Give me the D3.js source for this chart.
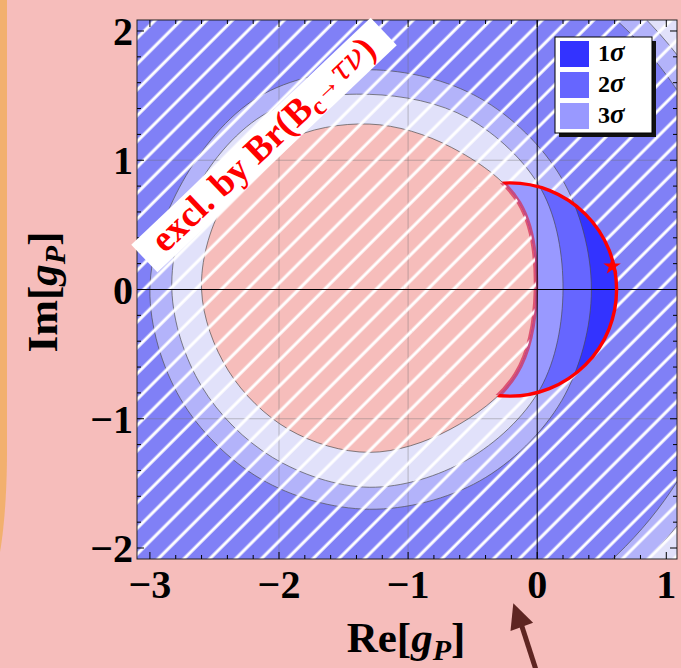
<!DOCTYPE html>
<html><head><meta charset="utf-8">
<script src="https://cdn.jsdelivr.net/npm/d3@7"></script>
<style>
html,body{margin:0;padding:0;background:#f6bdbb;}
svg{display:block;}
text{font-family:"Liberation Serif","Times New Roman",serif;}
</style></head><body>
<svg id="chart" width="681" height="668"></svg>
<script>
// Δχ² contour boundaries in the complex g_P plane, as radii around the ring
// centre, sampled every 30 degrees (counter-clockwise from the +Re axis).
const ringCenter = [-1.3, 0];
const boundaryAngles = [0, 30, 60, 90, 120, 150, 180, 210, 240, 270, 300, 330];
const edge3sigmaInner = [1.29, 1.34, 1.27, 1.28, 1.32, 1.31, 1.30, 1.26, 1.25, 1.26, 1.25, 1.31];
const edge2sigmaInner = [1.50, 1.54, 1.53, 1.51, 1.58, 1.55, 1.53, 1.50, 1.50, 1.53, 1.52, 1.53];
const edge1sigmaInner = [1.72, 1.72, 1.71, 1.70, 1.72, 1.67, 1.70, 1.69, 1.69, 1.70, 1.71, 1.72];
const edge1sigmaOuter = [2.83, 2.84, 2.83, 2.83, 2.83, 2.83, 2.83, 2.83, 2.83, 2.83, 2.82, 2.81];
const edge2sigmaOuter = [3.02, 3.00, 3.00, 3.00, 3.00, 3.00, 3.00, 3.00, 3.00, 3.00, 3.00, 3.01];

// Disc allowed by Br(B_c -> tau nu)
const brCenter = [-0.21, 0];
const brRadius = 0.825;

// Best-fit point
const bestFit = [0.58, 0.18];

// Axes
const xDomain = [-3.1, 1.083];
const yDomain = [-2.085, 2.085];
const xTicks = [-3, -2, -1, 0, 1];
const yTicks = [-2, -1, 0, 1, 2];
const xGrid = [-2, -1];
const yGrid = [-1, 1];
const minorStep = 0.2;

const legendLabels = ["1", "2", "3"];
const bandLabel = "excl. by Br(B";

const raw = {s1: "#3333ff", s2: "#6666ff", s3: "#9999ff"};
const washed = {s1: "#8080f6", s2: "#b3b3fa", s3: "#e1e1fa"};
const pink = "#f6bdbb";

const plot = {left: 137, right: 677, top: 20, bottom: 559};
const W = 681, H = 668;
const x = d3.scaleLinear(xDomain, [plot.left, plot.right]);
const y = d3.scaleLinear(yDomain, [plot.bottom, plot.top]);

const svg = d3.select("#chart");
const defs = svg.append("defs");

// slide background
svg.append("rect").attr("width", W).attr("height", H).attr("fill", pink);
svg.append("path").attr("d", "M0,0 L7,0 L7,450 C7,500 3,535 0,552 Z").attr("fill", "#f2b06e");

function ringPath(radii) {
  const pts = boundaryAngles.map((a, i) => {
    const t = a * Math.PI / 180;
    return [x(ringCenter[0] + radii[i] * Math.cos(t)), y(ringCenter[1] + radii[i] * Math.sin(t))];
  });
  return d3.line().curve(d3.curveCatmullRomClosed.alpha(0.5))(pts);
}
const brCx = x(brCenter[0]), brCy = y(brCenter[1]);
const brRx = x(brCenter[0] + brRadius) - brCx, brRy = brCy - y(brCenter[1] + brRadius);
const brPath = `M${brCx + brRx},${brCy}A${brRx},${brRy} 0 1,0 ${brCx - brRx},${brCy}A${brRx},${brRy} 0 1,0 ${brCx + brRx},${brCy}Z`;
const fullRect = `M0,0H${W}V${H}H0Z`;
const pinkPath = ringPath(edge3sigmaInner);

function clip(id, d, evenodd) {
  defs.append("clipPath").attr("id", id).append("path").attr("d", d)
    .attr("clip-rule", evenodd ? "evenodd" : "nonzero");
}
clip("plotClip", `M${plot.left},${plot.top}H${plot.right}V${plot.bottom}H${plot.left}Z`);
clip("brClip", brPath);
clip("outsideBrClip", fullRect + brPath, true);
clip("pinkClip", pinkPath);
clip("outsidePinkClip", fullRect + pinkPath, true);

// hatch pattern: white "/" stripes
const P = 18.24;
const pat = defs.append("pattern").attr("id", "hatch").attr("patternUnits", "userSpaceOnUse")
  .attr("width", P).attr("height", P).attr("patternTransform", "rotate(45)");
pat.append("rect").attr("x", 13).attr("y", 0).attr("width", 3).attr("height", P).attr("fill", "#fff");

// nested discs, painted from the outside in
const bands = [
  [edge2sigmaOuter, "s2"],
  [edge1sigmaOuter, "s1"],
  [edge1sigmaInner, "s2"],
  [edge2sigmaInner, "s3"]
];

const plotG = svg.append("g").attr("clip-path", "url(#plotClip)");

// washed-out colours everywhere
const wg = plotG.append("g");
wg.append("rect").attr("x", plot.left).attr("y", plot.top)
  .attr("width", plot.right - plot.left).attr("height", plot.bottom - plot.top).attr("fill", washed.s3);
bands.forEach(([r, k]) => wg.append("path").attr("d", ringPath(r)).attr("fill", washed[k]));
wg.append("path").attr("d", pinkPath).attr("fill", pink);

// full colours in the allowed crescent
const rg = plotG.append("g").attr("clip-path", "url(#brClip)")
  .append("g").attr("clip-path", "url(#outsidePinkClip)");
bands.filter(([r, k]) => k !== "s2" || r !== edge2sigmaOuter)
  .forEach(([r, k]) => rg.append("path").attr("d", ringPath(r)).attr("fill", raw[k]));

// grid
xGrid.forEach(v => plotG.append("line").attr("x1", x(v)).attr("x2", x(v)).attr("y1", plot.top).attr("y2", plot.bottom)
  .attr("stroke", "rgba(110,110,110,0.4)").attr("stroke-width", 1));
yGrid.forEach(v => plotG.append("line").attr("y1", y(v)).attr("y2", y(v)).attr("x1", plot.left).attr("x2", plot.right)
  .attr("stroke", "rgba(110,110,110,0.4)").attr("stroke-width", 1));

// contour lines
[edge2sigmaOuter, edge1sigmaOuter, edge1sigmaInner, edge2sigmaInner].forEach(r =>
  plotG.append("path").attr("d", ringPath(r)).attr("fill", "none")
    .attr("stroke", "#4a4a4a").attr("stroke-opacity", 0.75).attr("stroke-width", 0.9));
plotG.append("g").attr("clip-path", "url(#outsideBrClip)").append("path").attr("d", pinkPath).attr("fill", "none")
  .attr("stroke", "#4a4a4a").attr("stroke-opacity", 0.75).attr("stroke-width", 0.9);
plotG.append("g").attr("clip-path", "url(#brClip)").append("path").attr("d", pinkPath)
  .attr("fill", "none").attr("stroke", "rgba(212,45,85,0.72)").attr("stroke-width", 4.5);

// hatching: everything outside the Br disc, plus the pink core inside it
const hatchRect = g => g.append("rect").attr("x", plot.left).attr("y", plot.top)
  .attr("width", plot.right - plot.left).attr("height", plot.bottom - plot.top).attr("fill", "url(#hatch)");
hatchRect(plotG.append("g").attr("clip-path", "url(#outsideBrClip)"));
hatchRect(plotG.append("g").attr("clip-path", "url(#brClip)").append("g").attr("clip-path", "url(#pinkClip)"));

// zero axes
plotG.append("line").attr("x1", x(0)).attr("x2", x(0)).attr("y1", plot.top).attr("y2", plot.bottom).attr("stroke", "#000").attr("stroke-width", 1);
plotG.append("line").attr("y1", y(0)).attr("y2", y(0)).attr("x1", plot.left).attr("x2", plot.right).attr("stroke", "#000").attr("stroke-width", 1);

// Br(B_c -> tau nu) boundary and best-fit point
plotG.append("g").attr("clip-path", "url(#outsidePinkClip)").append("path").attr("d", brPath)
  .attr("fill", "none").attr("stroke", "#ff0000").attr("stroke-width", 3.4);
plotG.append("path").attr("d", d3.symbol(d3.symbolStar, 95)())
  .attr("transform", `translate(${x(bestFit[0])},${y(bestFit[1])})`).attr("fill", "#ff0000");

// frame and ticks
svg.append("rect").attr("x", plot.left).attr("y", plot.top)
  .attr("width", plot.right - plot.left).attr("height", plot.bottom - plot.top)
  .attr("fill", "none").attr("stroke", "#222").attr("stroke-width", 1);
const tk = svg.append("g").attr("stroke", "#000").attr("stroke-width", 1);
d3.range(Math.round(xTicks[0] / minorStep), Math.round(xTicks[xTicks.length - 1] / minorStep) + 1).forEach(i => {
  const v = i * minorStep, L = (i % 5 === 0) ? 7 : 4, px = x(v);
  tk.append("line").attr("x1", px).attr("x2", px).attr("y1", plot.bottom).attr("y2", plot.bottom - L);
  tk.append("line").attr("x1", px).attr("x2", px).attr("y1", plot.top).attr("y2", plot.top + L);
});
d3.range(Math.round(yTicks[0] / minorStep), Math.round(yTicks[yTicks.length - 1] / minorStep) + 1).forEach(i => {
  const v = i * minorStep, L = (i % 5 === 0) ? 7 : 4, py = y(v);
  tk.append("line").attr("y1", py).attr("y2", py).attr("x1", plot.left).attr("x2", plot.left + L);
  tk.append("line").attr("y1", py).attr("y2", py).attr("x1", plot.right).attr("x2", plot.right - L);
});

// tick labels
const fmt = v => (v < 0 ? "\u2212" + Math.abs(v) : String(v));
svg.append("g").selectAll("text").data(xTicks).join("text")
  .attr("x", d => x(d)).attr("y", 598).attr("text-anchor", "middle")
  .attr("font-size", 40).attr("font-weight", "bold").text(fmt);
svg.append("g").selectAll("text").data(yTicks).join("text")
  .attr("x", 133).attr("y", d => y(d) + 14).attr("text-anchor", "end")
  .attr("font-size", 40).attr("font-weight", "bold").text(fmt);

// axis titles
function gpTitle(t, head) {
  t.attr("font-size", 43).attr("font-weight", "bold").attr("text-anchor", "middle");
  t.append("tspan").text(head + "[");
  t.append("tspan").attr("font-style", "italic").text("g");
  t.append("tspan").attr("font-style", "italic").attr("font-size", 30).attr("dy", 8).text("P");
  t.append("tspan").attr("dy", -8).text("]");
}
gpTitle(svg.append("text").attr("x", 406).attr("y", 652), "Re");
gpTitle(svg.append("text").attr("transform", "translate(57,292) rotate(-90)"), "Im");

// legend
const lg = svg.append("g");
lg.append("rect").attr("x", 559).attr("y", 41).attr("width", 97).attr("height", 96).attr("fill", "#111");
lg.append("rect").attr("x", 555).attr("y", 37).attr("width", 97).attr("height", 96).attr("fill", "#fff").attr("stroke", "#000").attr("stroke-width", 1);
legendLabels.forEach((lab, i) => {
  const y0 = 41 + i * 31;
  lg.append("rect").attr("x", 560).attr("y", y0).attr("width", 29).attr("height", 26).attr("fill", raw["s" + lab]);
  const t = lg.append("text").attr("x", 598).attr("y", y0 + 20).attr("font-size", 24).attr("font-weight", "bold");
  t.append("tspan").text(lab);
  t.append("tspan").attr("font-style", "italic").attr("font-size", 27).text("\u03c3");
});

// exclusion label
const lb = svg.append("g").attr("transform", "translate(264,145) rotate(-43.5)");
lb.append("rect").attr("x", -165).attr("y", -19).attr("width", 330).attr("height", 38).attr("fill", "#fff");
const lt = lb.append("text").attr("x", 0).attr("y", 11).attr("text-anchor", "middle")
  .attr("font-size", 37).attr("font-weight", "bold").attr("fill", "#ff0000");
lt.append("tspan").text(bandLabel);
lt.append("tspan").attr("font-size", 26).attr("dy", 7).text("c");
lt.append("tspan").attr("font-size", 26).attr("dy", -9).text("\u2192");
lt.append("tspan").attr("font-size", 32).attr("font-style", "italic")
  .attr("font-family", "'DejaVu Serif', serif").attr("font-weight", "normal").text("\u03c4\u03bd");
lt.append("tspan").attr("dy", 2).text(")");

// pointer arrow
svg.append("line").attr("x1", 536.7).attr("y1", 672).attr("x2", 521.8).attr("y2", 626)
  .attr("stroke", "#5e2522").attr("stroke-width", 5);
svg.append("path").attr("d", "M513.3,603.3 L533.1,622.7 L510.5,630.9 Z").attr("fill", "#5e2522");
</script>
</body></html>
